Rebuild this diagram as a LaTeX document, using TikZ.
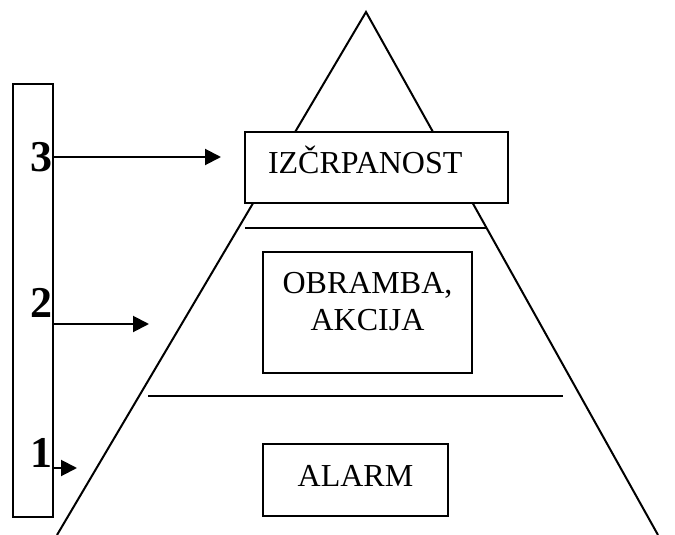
\documentclass[tikz,border=0pt]{standalone}
\usepackage{fontspec}
\setmainfont{Liberation Serif}
\usetikzlibrary{arrows.meta,positioning}

\begin{document}
\begin{tikzpicture}[x=0.5pt,y=-0.5pt,>={Triangle[length=8pt,width=8pt]},line width=1pt,
	levelbox/.style={draw,fill=white,line width=1pt,font=\fontsize{16}{18.5}\selectfont},
	oneline/.style={text height=10.5pt,text depth=4pt},
	digit/.style={font=\fontsize{22}{26}\selectfont\bfseries,inner sep=0pt,anchor=east}]
	\useasboundingbox (0,0) rectangle (675,535);
	% pyramid and its separators
	\draw (57,535) -- (366,12) -- (658,535);
	\draw (245,228) -- (487,228);
	\draw (148,396) -- (563,396);
	% levels
	\node[levelbox,oneline,minimum height=35.5pt,text width=108.5pt,inner xsep=11.5pt,align=left] (izcrp) at (376.5,167.5) {IZČRPANOST};
	\node[levelbox,inner xsep=0pt,inner ysep=10pt] (obramba) at (367.5,312.5) {\parbox[c][40.5pt][t]{104.5pt}{\centering OBRAMBA,\\AKCIJA}};
	\node[levelbox,oneline,minimum width=92.5pt,minimum height=36pt,inner sep=0pt] (alarm) at (355.5,480) {ALARM};
	% stages bar
	\node[draw,line width=1pt,minimum width=20pt,minimum height=216.5pt,inner sep=0pt] (bar) at (33,300.5) {};
	\node[digit] (d3) at (54,157) {3};
	\node[digit] (d2) at (54,303) {2};
	\node[digit] (d1) at (54,453) {1};
	\coordinate (t3) at (221,157);
	\coordinate (t2) at (149,324);
	\coordinate (t1) at (77,468);
	\draw[->] (d3.east) -- (t3);
	\draw[->] (bar.east |- t2) -- (t2);
	\draw[->] (bar.east |- t1) -- (t1);
\end{tikzpicture}
\end{document}
